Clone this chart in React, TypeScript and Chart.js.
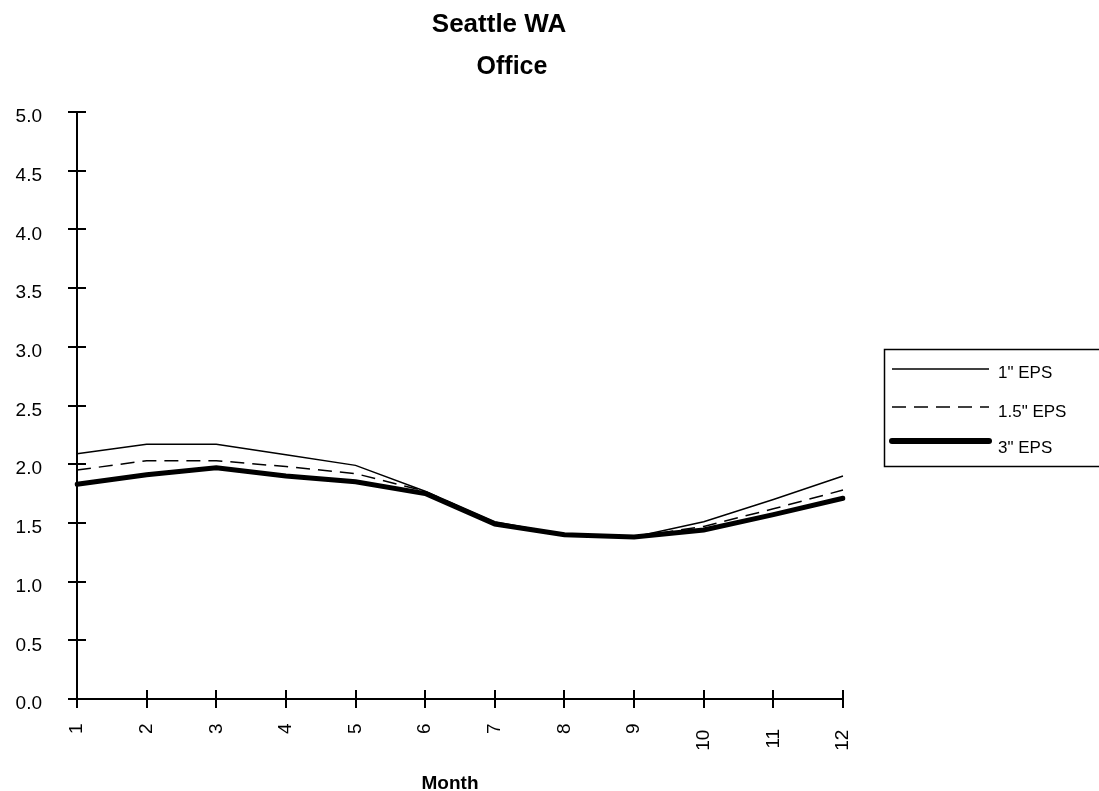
import React, { useEffect, useRef } from "react";
import { Chart, registerables } from "chart.js";

Chart.register(...registerables);

const months = ["1", "2", "3", "4", "5", "6", "7", "8", "9", "10", "11", "12"];
const eps1 = [2.09, 2.17, 2.17, 2.08, 1.99, 1.77, 1.51, 1.40, 1.38, 1.51, 1.70, 1.90];
const eps15 = [1.95, 2.03, 2.03, 1.98, 1.92, 1.77, 1.50, 1.40, 1.38, 1.47, 1.62, 1.78];
const eps3 = [1.83, 1.91, 1.97, 1.90, 1.85, 1.75, 1.49, 1.40, 1.38, 1.44, 1.57, 1.71];
const seriesNames = ['1" EPS', '1.5" EPS', '3" EPS'];
const titleLines = ["Seattle WA", "Office"];
const xTitle = "Month";

const FONT = "'Liberation Sans', Arial, sans-serif";

const decorPlugin = {
  id: "decor",
  afterDraw(chart: any) {
    const ctx = chart.ctx;
    const area = chart.chartArea;
    const xs = chart.scales.x;
    const ys = chart.scales.y;
    ctx.save();
    // inner tick halves
    ctx.strokeStyle = "#000";
    ctx.lineWidth = 2;
    ctx.beginPath();
    ys.ticks.forEach((t: any) => {
      const y = Math.round(ys.getPixelForValue(t.value));
      ctx.moveTo(area.left, y);
      ctx.lineTo(area.left + 9, y);
    });
    months.forEach((_, i) => {
      const x = Math.round(xs.getPixelForValue(i));
      ctx.moveTo(x, area.bottom);
      ctx.lineTo(x, area.bottom - 9);
    });
    ctx.stroke();

    ctx.fillStyle = "#000";
    // y tick labels
    ctx.font = `19px ${FONT}`;
    ctx.textAlign = "right";
    ctx.textBaseline = "middle";
    ys.ticks.forEach((t: any) => {
      const y = ys.getPixelForValue(t.value);
      ctx.fillText(Number(t.value).toFixed(1), 42, y + 5);
    });
    // x tick labels (rotated)
    months.forEach((m, i) => {
      const x = xs.getPixelForValue(i);
      const w = ctx.measureText(m).width;
      ctx.save();
      ctx.translate(x, area.bottom + 18 + 0.6 * w);
      ctx.rotate(-Math.PI / 2);
      ctx.textAlign = "right";
      ctx.textBaseline = "middle";
      ctx.fillText(m, 0, 0);
      ctx.restore();
    });

    // titles
    ctx.textAlign = "center";
    ctx.textBaseline = "alphabetic";
    ctx.font = `bold 26px ${FONT}`;
    ctx.fillText(titleLines[0], 499, 32);
    ctx.font = `bold 25px ${FONT}`;
    ctx.fillText(titleLines[1], 512, 74);
    ctx.font = `bold 19px ${FONT}`;
    ctx.fillText(xTitle, 450, 789);

    // legend
    const lx = 884, ly = 349, lw = 230, lh = 117;
    ctx.lineWidth = 1.5;
    ctx.strokeRect(lx + 0.5, ly + 0.5, lw, lh);
    ctx.font = `17px ${FONT}`;
    ctx.textAlign = "left";
    const rows = [369, 407, 441];
    const textBase = [378, 417, 453];
    chart.data.datasets.forEach((ds: any, i: number) => {
      ctx.beginPath();
      ctx.lineWidth = i === 2 ? 6 : ds.borderWidth;
      ctx.setLineDash(ds.borderDash || []);
      ctx.lineCap = i === 2 ? "round" : "butt";
      ctx.moveTo(892, rows[i]);
      ctx.lineTo(989, rows[i]);
      ctx.stroke();
      ctx.setLineDash([]);
      ctx.fillText(ds.label, 998, textBase[i]);
    });
    ctx.restore();
  },
};

export default function App() {
  const ref = useRef<HTMLCanvasElement>(null);
  useEffect(() => {
    document.body.style.margin = "0";
    const chart = new Chart(ref.current!, {
      type: "line",
      data: {
        labels: months,
        datasets: [
          { label: seriesNames[0], data: eps1, borderColor: "#000", borderWidth: 1.5, pointRadius: 0, fill: false, tension: 0 },
          { label: seriesNames[1], data: eps15, borderColor: "#000", borderWidth: 1.5, borderDash: [14, 8], pointRadius: 0, fill: false, tension: 0 },
          { label: seriesNames[2], data: eps3, borderColor: "#000", borderWidth: 5, pointRadius: 0, fill: false, tension: 0, borderCapStyle: "round" },
        ],
      },
      options: {
        responsive: false,
        animation: false,
        layout: { padding: { top: 112, right: 256, left: 0, bottom: 0 } },
        plugins: { legend: { display: false }, title: { display: false }, tooltip: { enabled: false } },
        scales: {
          x: {
            type: "category",
            offset: false,
            afterFit: (s: any) => { s.height = 92; },
            grid: { drawOnChartArea: false, drawTicks: true, tickLength: 9, color: "#000", lineWidth: 2 },
            border: { color: "#000", width: 2 },
            ticks: { display: false, autoSkip: false },
          },
          y: {
            min: 0,
            max: 5,
            afterFit: (s: any) => { s.width = 77; },
            grid: { drawOnChartArea: false, drawTicks: true, tickLength: 9, color: "#000", lineWidth: 2 },
            border: { color: "#000", width: 2 },
            ticks: { display: false, stepSize: 0.5 },
          },
        },
      },
      plugins: [decorPlugin],
    });
    return () => chart.destroy();
  }, []);
  return <canvas ref={ref} width={1099} height={791} style={{ display: "block" }} />;
}
